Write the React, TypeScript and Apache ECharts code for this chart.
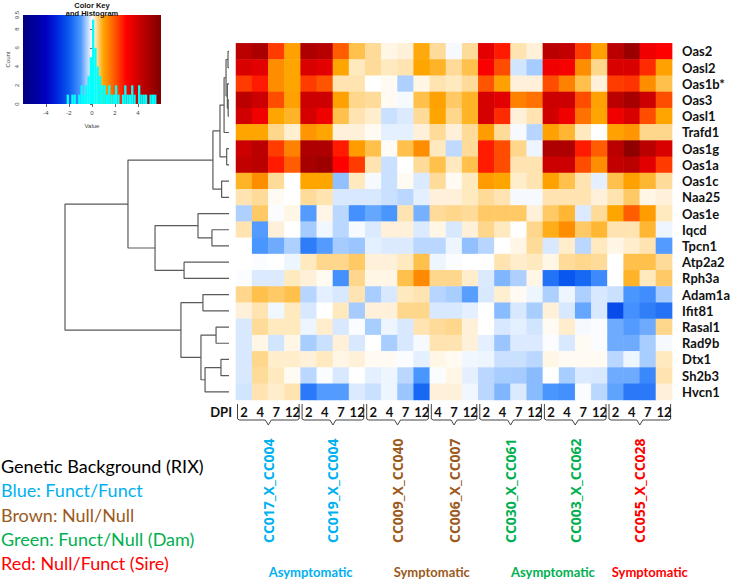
import React, { useEffect, useRef } from "react";
import * as echarts from "echarts";

// ---------- data ----------
const genes = ["Oas2", "Oasl2", "Oas1b*", "Oas3", "Oasl1", "Trafd1", "Oas1g", "Oas1a", "Oas1c", "Naa25", "Oas1e", "Iqcd", "Tpcn1", "Atp2a2", "Rph3a", "Adam1a", "Ifit81", "Rasal1", "Rad9b", "Dtx1", "Sh2b3", "Hvcn1"];
const dpiLabels = ["2", "4", "7", "12", "2", "4", "7", "12", "2", "4", "7", "12", "4", "7", "12", "2", "4", "7", "12", "2", "4", "7", "12", "2", "4", "7", "12"];
const strains = ["CC017_X_CC004", "CC019_X_CC004", "CC009_X_CC040", "CC006_X_CC007", "CC030_X_CC061", "CC003_X_CC062", "CC055_X_CC028"];
const strainSizes = [4, 4, 4, 3, 4, 4, 4];
const strainColors = ["#00b0f0", "#00b0f0", "#9c5a1c", "#9c5a1c", "#00b050", "#00b050", "#ff0000"];
const phenoLabels = ["Asymptomatic", "Symptomatic", "Asymptomatic", "Symptomatic"];
const phenoFirstStrain = [0, 2, 4, 6];
const phenoLastStrain = [1, 3, 5, 6];
const phenoColors = ["#00b0f0", "#9c5a1c", "#00b050", "#ff0000"];
const legendLines = ["Genetic Background (RIX)", "Blue: Funct/Funct", "Brown: Null/Null", "Green: Funct/Null (Dam)", "Red: Null/Funct (Sire)"];
const legendColors = ["#000000", "#00b0f0", "#9c5a1c", "#00b050", "#ff0000"];

const oas2 = [4.5, 4.9, 2.3, 1.05, 4.8, 4.6, 1.9, 0.7, 0.4, 0.1, 0.15, 0.95, 0.4, -0.05, 0.4, 3.6, 2.7, 0.3, 0.15, 4.5, 4.3, 2.3, 1.05, 4.5, 5.3, 3.3, 3.0];
const oasl2 = [3.8, 3.6, 1.3, 1.0, 3.8, 3.6, 1.0, 0.25, 0.4, 0.25, 0.3, 1.0, 0.85, 0.4, 0.7, 3.1, 2.1, -0.25, -0.5, 3.3, 3.2, 1.3, 0.45, 3.8, 3.8, 2.5, 1.05];
const oas1b = [2.3, 2.7, 1.3, 1.0, 2.3, 2.0, 0.3, 0.3, 0, 0.05, -0.45, 0.1, 0.3, 0.25, 0.4, 2.0, 1.05, 0.15, 0.15, 2.1, 1.45, 0.7, 0.15, 2.3, 2.4, 1.3, 0.7];
const oas3 = [4.5, 4.1, 2.1, 1.05, 4.1, 4.1, 1.05, 0.45, 0.4, 0.05, -0.05, 0.7, 1.05, 0.6, 0.85, 3.9, 3.6, 1.45, 1.65, 4.1, 4.1, 2.1, 1.05, 4.5, 5.0, 4.1, 2.1];
const oasl1 = [4.0, 3.3, 1.0, 0.85, 3.9, 3.3, 0.7, 0.3, 0.2, -0.3, -0.2, 0.4, 1.0, 0.45, 0.85, 3.9, 2.5, 0.15, 0.3, 4.0, 3.3, 1.65, 1.0, 3.3, 3.8, 2.1, 1.0];
const trafd1 = [1.0, 1.0, 0.45, 0.18, 1.2, 1.0, 0.15, 0.15, 0.05, -0.15, -0.15, 0.15, 0.4, 0.15, 0.4, 1.1, 0.4, -0.05, -0.4, 1.05, 0.8, 0.25, 0, 1.05, 1.2, 0.45, 0.45];
const oas1g = [4.1, 4.5, 2.3, 1.45, 4.8, 4.8, 2.7, 1.1, 0.7, 0.03, 0.7, 1.3, 0.25, -0.35, 0.4, 2.7, 2.1, 0.45, -0.1, 4.8, 4.8, 2.7, 1.9, 4.5, 5.6, 4.5, 3.8];
const oas1a = [4.3, 4.5, 2.7, 1.9, 5.0, 5.2, 3.0, 2.3, 0.3, -0.3, 0, 0.4, 0.7, 0.25, 0.7, 2.7, 2.1, 0.3, 0.3, 4.1, 4.1, 2.1, 1.3, 4.3, 4.5, 3.6, 2.3];
const oas1c = [0.85, 1.3, 0.4, 0, 1.0, 1.0, -0.6, 0.25, -0.05, -0.3, 0.05, -0.2, 0.4, 0.05, 0.25, 1.1, 1.0, 0.2, 0.3, 1.05, 0.7, 0.3, -0.15, 0.7, 1.05, 0.8, 0.4];
const naa25 = [0.3, 0.4, 0.05, 0, 0.4, 0.3, -0.22, -0.22, -0.22, -0.3, -0.38, -0.15, 0.15, 0.15, 0.25, 0.4, 0.3, -0.05, -0.05, 0.3, 0.3, 0.3, 0.15, 0.3, 0.6, 0.1, 0.15];
const oas1e = [-0.45, 0.6, -0.03, 0.1, -0.95, 0.1, -0.38, -1.1, -0.85, -1.0, 0.3, -0.75, 0.4, 0.45, 0.4, 0.6, 0.6, 0.6, 0.15, 0.6, 0.8, -0.2, 0.4, 1.0, 1.9, 1.1, 0.25];
const iqcd = [0.3, -0.95, 0.15, 0, -0.5, -0.08, -0.38, -0.05, -0.2, 0.15, 0.15, -0.2, 0.1, -0.22, 0.15, 0.45, 0.25, 0, 0.45, 0.9, 1.3, 0.6, 0.8, 0.3, 0.3, 0.8, -0.1];
const tpcn1 = [0, -1.0, -0.8, -0.45, -1.45, -0.95, -0.5, -0.55, -0.15, -0.2, -0.2, -0.38, -0.38, -0.1, -0.6, -0.4, 0, 0.1, 0.4, -0.22, 0.2, -0.38, 0.25, 0.1, 0.2, 0.3, -0.95];
const atp2a2 = [0, -0.03, 0, -0.1, 0.25, 0.45, 0.45, 0.6, 0.15, 0.15, 0.25, 0.7, -0.1, -0.03, 0, 0, 0.3, 0.2, 0.25, 0.1, 0.4, 0.45, 0.4, 0, 0.7, 0.7, 0.4];
const rph3a = [-0.03, -0.2, -0.2, 0.25, 0.15, 0.05, -1.1, 0.45, 0.1, 0.1, 0.7, 1.35, 0.45, 0.45, 0.2, -0.2, -0.7, -0.45, 0.1, -1.6, -2.1, -1.8, -1.2, 0, 0.85, 0.25, 0.6];
const adam1a = [0.45, 0.7, 0.6, 0.7, -0.4, -0.15, -0.22, 0.3, -0.48, -0.22, 0.25, 0.3, -0.4, -0.48, -0.92, -0.22, 0.18, 0.05, -0.1, -0.45, -0.1, -0.45, -0.22, -0.3, -1.0, -1.15, -0.5];
const ifit81 = [0.15, 0.3, -0.08, 0.25, -0.22, 0, 0.25, -0.5, 0.15, 0.15, 0.45, 0.45, -0.22, -0.22, -0.15, 0, -0.65, -0.22, -0.48, 0.15, -0.22, -0.85, -0.22, -2.3, -1.1, -1.4, -1.6];
const rasal1 = [-0.22, 0.4, 0.25, 0.25, -0.1, 0.2, -0.22, -0.03, -0.48, -0.1, -0.22, 0.3, 0.4, 0.45, 0.15, 0, -0.22, -0.15, -0.25, 0.05, 0.2, -0.05, -0.03, -0.8, -0.95, -0.8, 0.45];
const rad9b = [-0.22, 0.1, -0.25, 0.1, -0.48, -0.3, 0.15, -0.22, 0, -0.48, -0.22, -0.05, 0.3, 0.3, 0.15, -0.15, -0.55, -0.2, -0.2, -0.03, -0.22, 0.05, -0.03, -0.8, -0.8, -0.48, -0.05];
const dtx1 = [-0.22, 0.45, 0.2, 0.2, 0.15, 0.25, 0.1, 0.15, 0.05, 0.05, -0.03, -0.15, 0.1, 0.05, -0.08, -0.1, -0.3, -0.3, -0.38, 0.1, 0.05, 0.05, 0.05, -0.38, -0.1, -0.48, 0.25];
const sh2b3 = [-0.22, 0.4, 0.25, 0.05, -0.38, -0.03, -0.22, 0, -0.15, -0.1, -0.38, -1.0, -0.03, 0.1, -0.15, -0.38, -0.48, -0.5, -0.65, 0, -0.48, -0.2, -0.22, -0.8, -0.8, -1.25, 0.3];
const hvcn1 = [-0.25, 0.3, 0.2, 0.3, -1.5, -0.95, -0.95, -0.2, -0.3, -0.1, -0.55, -1.8, 0.15, 0.15, -0.08, -0.38, -0.7, -0.2, -0.65, -1.0, -1.1, -0.03, -0.38, -0.88, -1.5, -1.5, 0.15];

// hierarchical clustering of rows: node 100+k joins dendroA[k] and dendroB[k] at dendroH[k]
const dendroA = [0, 3, 2, 100, 103, 6, 104, 8, 106, 11, 10, 13, 110, 108, 15, 17, 19, 116, 115, 114, 113];
const dendroB = [1, 4, 101, 102, 5, 7, 105, 9, 107, 12, 109, 14, 111, 112, 16, 18, 20, 21, 117, 118, 119];
const dendroH = [0.06, 0.05, 0.1, 0.18, 0.3, 0.14, 0.55, 0.45, 0.98, 1.04, 1.89, 2.74, 4.51, 6.16, 1.59, 0.79, 0.49, 1.46, 1.71, 2.93, 10];

// colour key histogram
const histBins = [-2.1, -1.9, -1.7, -1.5, -1.3, -1.1, -0.9, -0.7, -0.5, -0.3, -0.1, 0.1, 0.3, 0.5, 0.7, 0.9, 1.1, 1.3, 1.5, 1.7, 1.9, 2.1, 2.3, 2.5, 2.7, 2.9, 3.1, 3.3, 3.5, 3.7, 3.9, 4.1, 4.3, 4.5, 4.7, 4.9, 5.1, 5.3, 5.5];
const histCounts = [1, 0, 1, 1, 0, 1, 2, 1, 2, 3, 5, 9, 6, 4, 3, 2, 2, 1, 2, 1, 1, 2, 1, 0, 1, 2, 1, 1, 2, 1, 0, 2, 1, 1, 1, 0, 1, 1, 1];

const colorScale = ["#000080", "#00009c", "#0000c0", "#0028e0", "#0a5cf0", "#4a96ff", "#ffffff", "#ffa500", "#ff5500", "#ff0000", "#d00000", "#a60000", "#800000"];

const matrix = [oas2, oasl2, oas1b, oas3, oasl1, trafd1, oas1g, oas1a, oas1c, naa25, oas1e, iqcd, tpcn1, atp2a2, rph3a, adam1a, ifit81, rasal1, rad9b, dtx1, sh2b3, hvcn1];

function nodeY(id: number): number {
  if (id < 100) return id + 0.5;
  const k = id - 100;
  return (nodeY(dendroA[k]) + nodeY(dendroB[k])) / 2;
}
function nodeH(id: number): number {
  return id < 100 ? 0 : dendroH[id - 100];
}

export default function App() {
  const ref = useRef<HTMLDivElement>(null);
  useEffect(() => {
    if (!ref.current) return;
    const chart = echarts.init(ref.current, null, { renderer: "svg" });

    const cells: number[][] = [];
    matrix.forEach((row, r) => row.forEach((v, c) => cells.push([c, r, v])));

    const dendroSeries = dendroH.map((h, k) => {
      const a = dendroA[k], b = dendroB[k];
      return {
        type: "line",
        xAxisIndex: 2,
        yAxisIndex: 2,
        symbol: "none",
        silent: true,
        lineStyle: { color: "#5a5a5a", width: 1.2 },
        data: [[nodeH(a), nodeY(a)], [h, nodeY(a)], [h, nodeY(b)], [nodeH(b), nodeY(b)]],
      };
    });

    const keyFont = "Liberation Sans";
    const option: any = {
      animation: false,
      backgroundColor: "#ffffff",
      textStyle: { fontFamily: "Lato" },
      grid: [
        { left: 23, top: 15, width: 138, height: 89 },
        { left: 236, top: 43.3, width: 438, height: 356.7 },
        { left: 65, top: 43.3, width: 164, height: 356.7 },
      ],
      xAxis: [
        {
          gridIndex: 0, type: "value", min: -6, max: 6, interval: 2,
          axisLine: { show: false },
          axisTick: { show: true, length: 3, lineStyle: { color: "#666" } },
          splitLine: { show: false },
          axisLabel: { showMinLabel: false, showMaxLabel: false, fontSize: 6, color: "#444", margin: 6, fontFamily: keyFont },
          name: "Value", nameLocation: "middle", nameGap: 19,
          nameTextStyle: { fontSize: 6, color: "#444", fontFamily: keyFont },
        },
        {
          gridIndex: 1, type: "category", data: dpiLabels,
          axisLine: { show: false }, axisTick: { show: false }, splitLine: { show: false },
          axisLabel: { interval: 0, fontSize: 13, fontWeight: "bold", color: "#111", margin: 5, fontFamily: "Lato" },
        },
        { gridIndex: 2, type: "value", min: 0, max: 10, inverse: true, show: false },
      ],
      yAxis: [
        {
          gridIndex: 0, type: "value", min: 0, max: 9.5, interval: 2,
          axisLine: { show: false },
          axisTick: { show: true, length: 2, lineStyle: { color: "#666" } },
          splitLine: { show: false },
          axisLabel: { rotate: 90, fontSize: 6, color: "#444", margin: 3, fontFamily: keyFont },
          name: "Count", nameLocation: "middle", nameGap: 12, nameRotate: 90,
          nameTextStyle: { fontSize: 6, color: "#444", fontFamily: keyFont },
        },
        {
          gridIndex: 1, type: "category", data: genes, inverse: true, position: "right",
          axisLine: { show: false }, axisTick: { show: false }, splitLine: { show: false },
          axisLabel: { interval: 0, fontSize: 13, fontWeight: "bold", color: "#111", margin: 10, fontFamily: "Lato" },
        },
        { gridIndex: 2, type: "value", min: 0, max: genes.length, inverse: true, show: false },
      ],
      visualMap: {
        type: "continuous", show: false, min: -6, max: 6, seriesIndex: 1,
        inRange: { color: colorScale },
      },
      series: [
        {
          type: "bar", xAxisIndex: 0, yAxisIndex: 0, barWidth: 2.3, z: 5,
          itemStyle: { color: "#00ffff" },
          data: histBins.map((b, i) => [b, histCounts[i]]),
        },
        {
          type: "heatmap", xAxisIndex: 1, yAxisIndex: 1, data: cells,
          itemStyle: { borderWidth: 0 },
          emphasis: { disabled: true },
        },
        ...dendroSeries,
      ],
    };
    chart.setOption(option);

    // derived annotation positions through the axes
    const px = (i: number) => chart.convertToPixel({ xAxisIndex: 1 }, i) as number;
    const py = (i: number) => chart.convertToPixel({ yAxisIndex: 1 }, i) as number;
    const cellW = px(1) - px(0);
    const cellH = py(1) - py(0);
    const heatBottom = py(genes.length - 1) + cellH / 2;
    const heatLeft = px(0) - cellW / 2;

    const starts: number[] = [];
    let acc = 0;
    strainSizes.forEach((s) => { starts.push(acc); acc += s; });
    const gLeft = (g: number) => px(starts[g]) - cellW / 2;
    const gRight = (g: number) => px(starts[g] + strainSizes[g] - 1) + cellW / 2;

    const graphics: any[] = [];
    // key gradient
    const tl = chart.convertToPixel({ gridIndex: 0 }, [-6, 9.5]) as number[];
    const br = chart.convertToPixel({ gridIndex: 0 }, [6, 0]) as number[];
    graphics.push({
      type: "rect", z: 0, silent: true,
      shape: { x: tl[0], y: tl[1], width: br[0] - tl[0], height: br[1] - tl[1] },
      style: {
        fill: new echarts.graphic.LinearGradient(0, 0, 1, 0,
          colorScale.map((c, i) => ({ offset: i / (colorScale.length - 1), color: c }))),
      },
    });
    graphics.push({ type: "text", x: (tl[0] + br[0]) / 2, y: 5, style: { text: "Color Key", font: "bold 7.5px Liberation Sans", fill: "#111", align: "center", verticalAlign: "middle" } });
    graphics.push({ type: "text", x: (tl[0] + br[0]) / 2, y: 13, style: { text: "and Histogram", font: "bold 7.5px Liberation Sans", fill: "#111", align: "center", verticalAlign: "middle" } });

    // DPI
    graphics.push({ type: "text", x: heatLeft - 4, y: heatBottom + 12, style: { text: "DPI", font: "bold 13px Lato", fill: "#111", align: "right", verticalAlign: "middle" } });

    // braces & strain labels
    strains.forEach((name, g) => {
      const x0 = gLeft(g) + 1.5, x1 = gRight(g) - 1.5, mid = (x0 + x1) / 2;
      const yT = heatBottom + 4, yC = heatBottom + 20, yN = heatBottom + 25;
      graphics.push({
        type: "polyline", silent: true,
        shape: { points: [[x0, yT], [x0, yC - 1], [x0 + 2, yC], [mid - 3, yC], [mid, yN], [mid + 3, yC], [x1 - 2, yC], [x1, yC - 1], [x1, yT]] },
        style: { stroke: "#444", lineWidth: 1, fill: null },
      });
      graphics.push({
        type: "text", x: (x0 + x1) / 2, y: 543, rotation: Math.PI / 2,
        style: { text: name, fontSize: 14, fontWeight: "bold", fontFamily: "Open Sans", fill: strainColors[g], align: "left", verticalAlign: "middle" },
      });
    });

    // phenotype labels
    phenoLabels.forEach((t, i) => {
      const cx = (gLeft(phenoFirstStrain[i]) + gRight(phenoLastStrain[i])) / 2 + 10;
      graphics.push({ type: "text", x: cx, y: 572, style: { text: t, font: "bold 13px Lato", fill: phenoColors[i], align: "center", verticalAlign: "middle" } });
    });

    // genetic background legend
    legendLines.forEach((t, i) => {
      graphics.push({ type: "text", x: 1, y: 466 + i * 24.3, style: { text: t, font: "18px Lato", fill: legendColors[i], align: "left", verticalAlign: "middle" } });
    });

    chart.setOption({ graphic: graphics });

    return () => chart.dispose();
  }, []);

  return (
    <div
      ref={ref}
      style={{ position: "fixed", left: 0, top: 0, width: 733, height: 580, background: "#ffffff" }}
    />
  );
}
